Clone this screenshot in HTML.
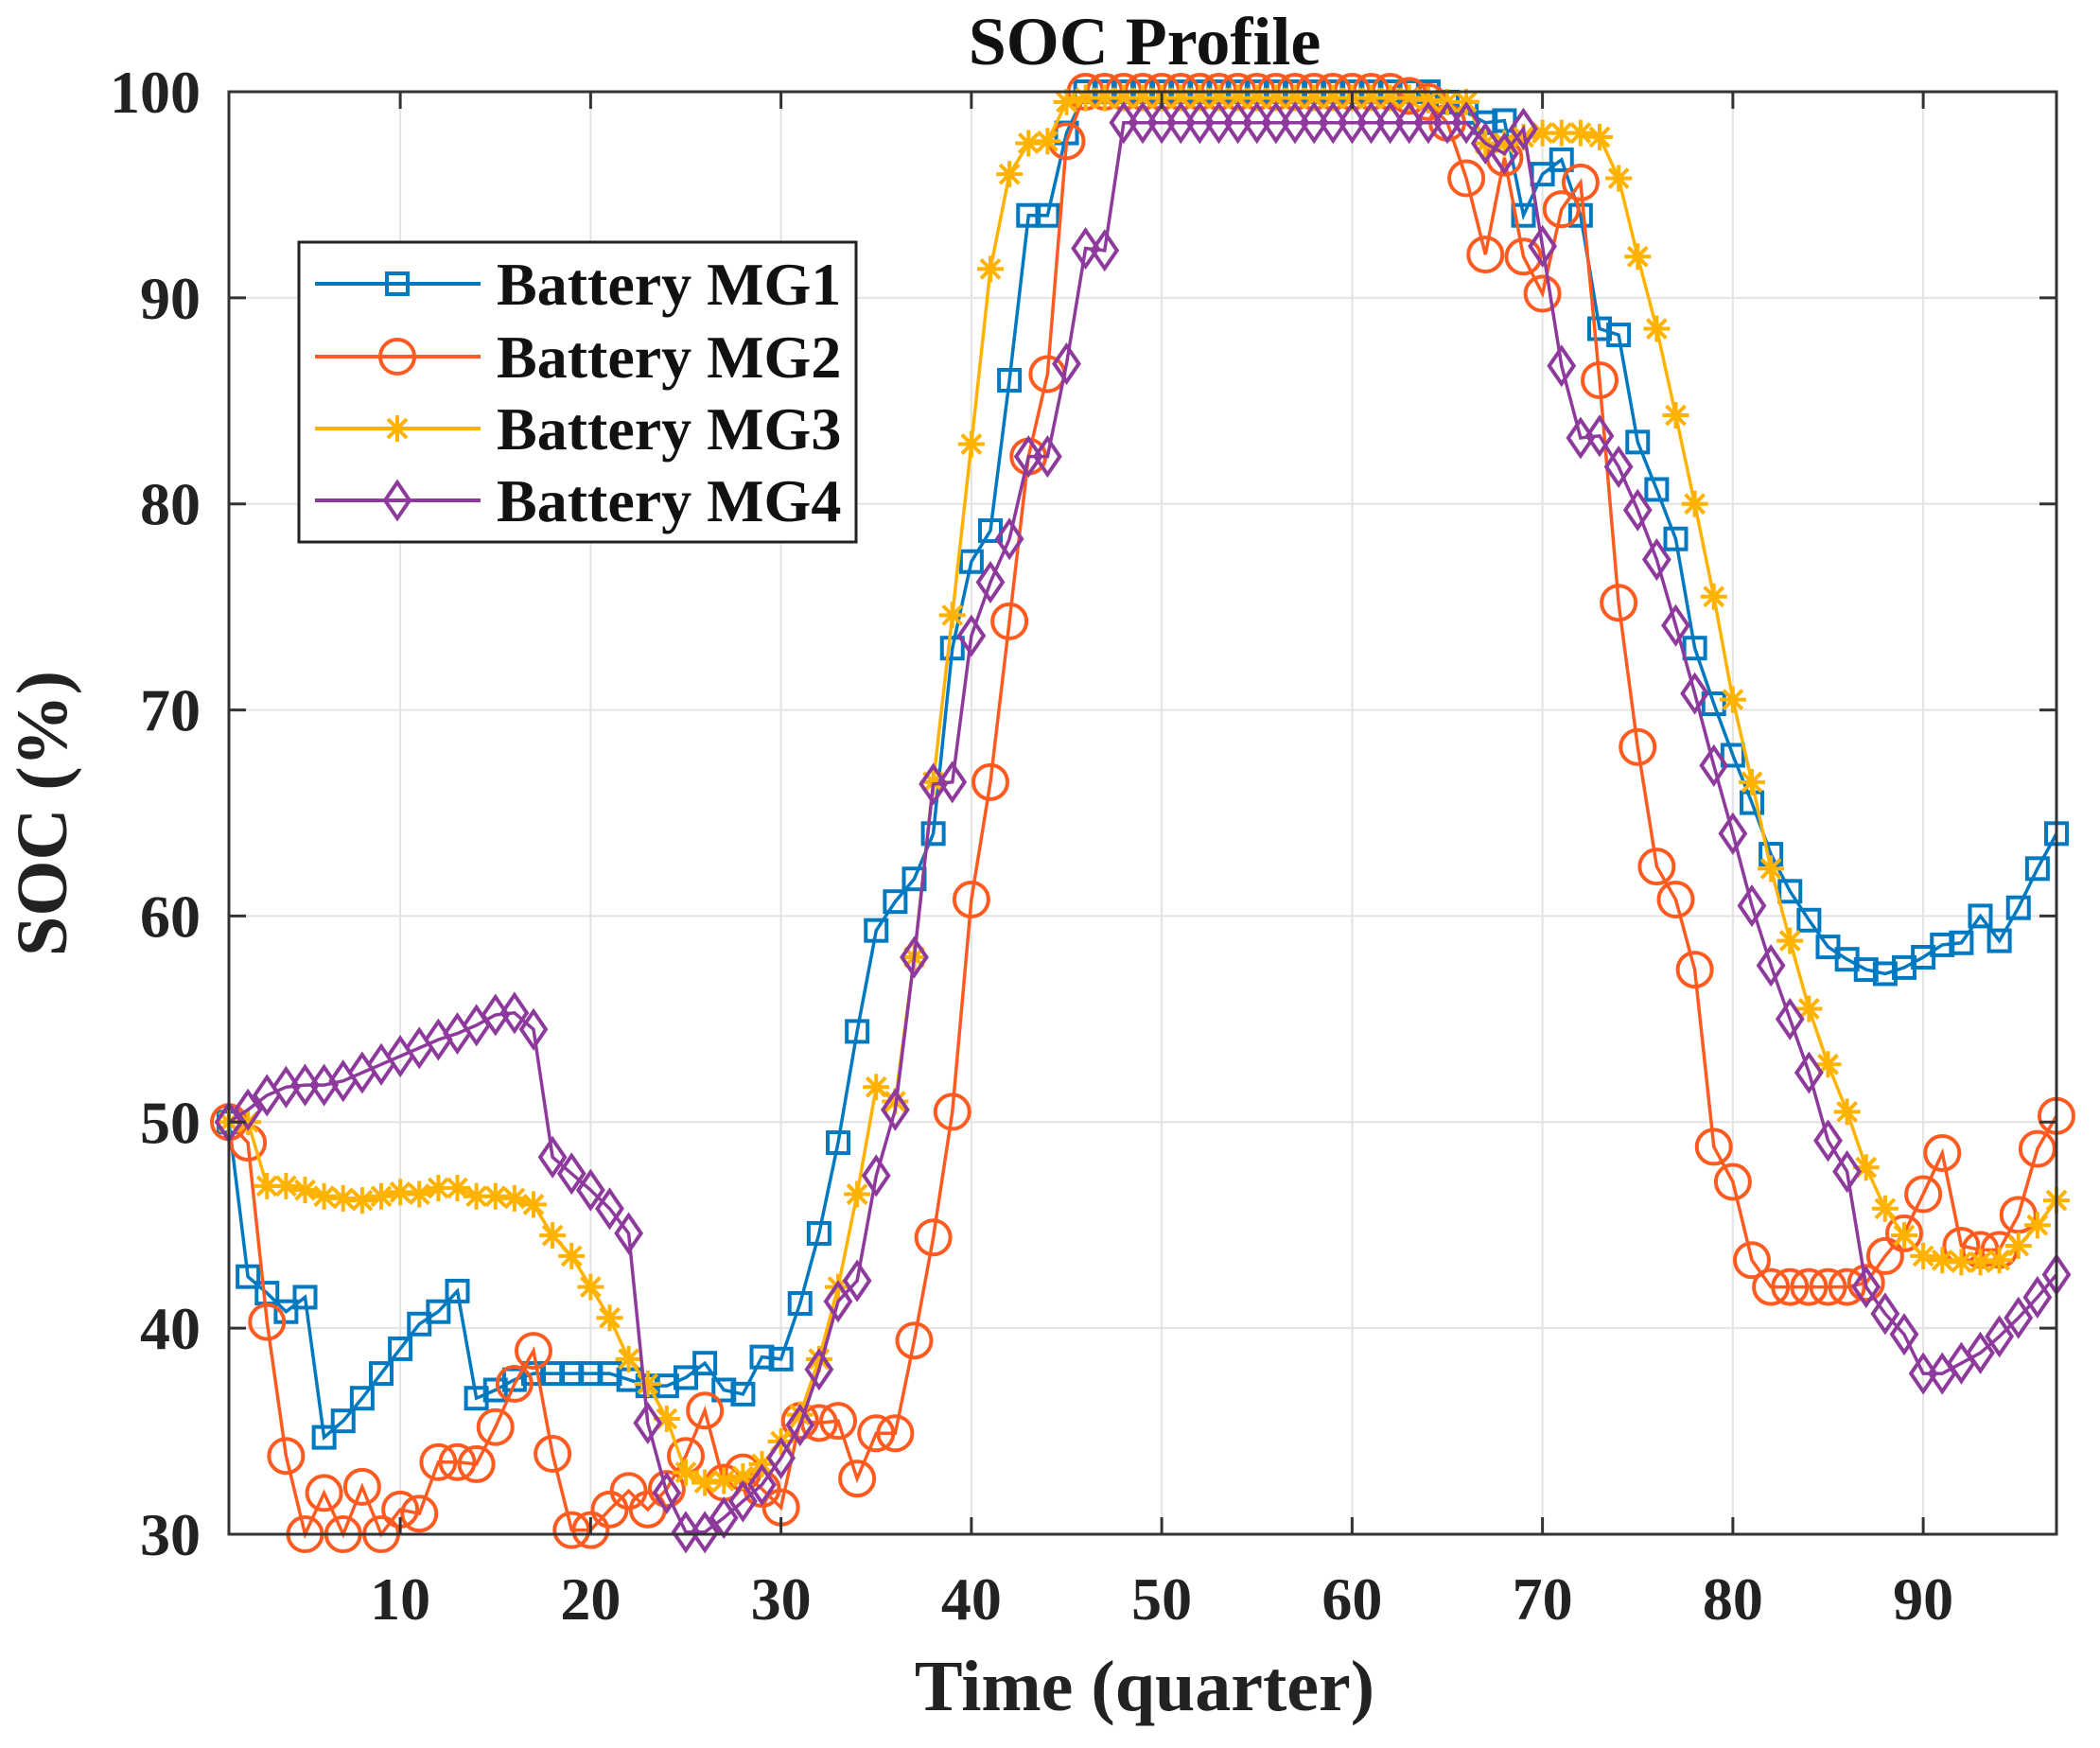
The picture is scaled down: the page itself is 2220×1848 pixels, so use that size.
<!DOCTYPE html>
<html><head><meta charset="utf-8"><style>
html,body{margin:0;padding:0;background:#fff;}
svg{display:block;font-family:"Liberation Serif",serif;font-weight:bold;}
</style></head><body>
<svg id="chart" width="2220" height="1848" viewBox="0 0 2220 1848" xmlns="http://www.w3.org/2000/svg">
<rect x="0" y="0" width="2220" height="1848" fill="#fff"/>
<g id="grid"></g>
<g id="series"></g>
<g id="axes"></g>
<text x="1210" y="68" font-size="72" text-anchor="middle" fill="#111">SOC Profile</text>
<text x="1210" y="1808" font-size="76" text-anchor="middle" fill="#222">Time (quarter)</text>
<text transform="translate(70,860) rotate(-90)" font-size="76" text-anchor="middle" fill="#222">SOC (%)</text>
<g id="legend"></g>
</svg>
<script>
const xTicks=[10,20,30,40,50,60,70,80,90];
const yTicks=[30,40,50,60,70,80,90,100];
const seriesNames=["Battery MG1","Battery MG2","Battery MG3","Battery MG4"];
const mg1=[50,42.5,41.7,40.8,41.5,34.7,35.5,36.6,37.8,39,40.2,40.8,41.8,36.6,37,37.5,37.8,37.8,37.8,37.8,37.8,37.5,37.2,37.2,37.6,38.3,37,36.8,38.6,38.5,41.2,44.6,49,54.4,59.3,60.7,61.8,64,73,77.2,78.7,86,94,94,98,100,100,100,100,100,100,100,100,100,100,100,100,100,100,100,100,100,100,100,99.5,99,98.5,98.6,94,96,96.7,94,88.5,88.2,83,80.7,78.3,73,70.3,67.8,65.5,63,61.2,59.8,58.5,57.9,57.4,57.2,57.5,58,58.6,58.7,60,58.8,60.4,62.3,64];
const mg2=[50,49,40.3,33.8,30,32,30,32.3,30,31.2,31,33.5,33.5,33.4,35.2,37.3,38.9,33.9,30.2,30.2,31.2,32.1,31.2,32.2,33.8,36,32.5,33,32.2,31.3,35.5,35.4,35.5,32.7,34.9,34.9,39.4,44.4,50.5,60.8,66.5,74.3,82.3,86.3,97.6,100,100,100,100,100,100,100,100,100,100,100,100,100,100,100,100,100,99.8,99.5,98.5,95.8,92.1,96.8,92,90.2,94.3,95.6,86,75.2,68.2,62.4,60.8,57.4,48.8,47.1,43.3,42,42,42,42,42,42.2,43.5,44.6,46.5,48.5,44,43.8,43.8,45.5,48.7,50.3];
const mg3=[50,50,46.9,46.9,46.7,46.4,46.3,46.2,46.4,46.6,46.5,46.8,46.8,46.4,46.4,46.3,46,44.5,43.5,42,40.5,38.5,37.3,35.6,33,32.5,32.6,32.8,33.4,34.5,35.8,38.5,42,46.5,51.7,51,58,66.5,74.6,82.9,91.4,96,97.5,97.6,99.5,99.7,99.7,99.7,99.7,99.7,99.7,99.7,99.7,99.7,99.7,99.7,99.7,99.7,99.7,99.7,99.7,99.7,99.7,99.6,99.5,99.5,97.5,97.5,97.8,98,98,98,97.8,95.8,92,88.5,84.3,80,75.5,70.5,66.5,62.3,58.8,55.5,52.8,50.5,47.8,45.8,44.5,43.5,43.3,43.2,43.2,43.3,44,45,46.2];
const mg4=[50,50.6,51.3,51.7,51.8,51.8,52,52.4,52.8,53.2,53.6,54,54.3,54.7,55.2,55.3,54.5,48.3,47.5,46.7,45.8,44.6,35.4,32,30.1,30.1,30.8,31.6,32.4,33.7,35.3,38,41.3,42.3,47.4,50.6,58,66.4,66.5,73.6,76.2,78.3,82.3,82.3,86.8,92.4,92.3,98.5,98.5,98.5,98.5,98.5,98.5,98.5,98.5,98.5,98.5,98.5,98.5,98.5,98.5,98.5,98.5,98.5,98.5,98.5,97.5,97,98.2,92.5,86.7,83.2,83.3,81.8,79.7,77.3,74.1,70.8,67.3,64,60.5,57.6,55,52.4,49.1,47.6,42,40.7,39.7,37.8,37.8,38.3,38.8,39.6,40.5,41.5,42.6];

const NS="http://www.w3.org/2000/svg";
const L=242,R=2174,T=97,B=1622,XMIN=1,XMAX=97,YMIN=30,YMAX=100;
function xs(v){return L+(v-XMIN)/(XMAX-XMIN)*(R-L);}
function ys(v){return B-(v-YMIN)/(YMAX-YMIN)*(B-T);}
function mk(tag,attrs,parent){const e=document.createElementNS(NS,tag);for(const k in attrs)e.setAttribute(k,attrs[k]);parent.appendChild(e);return e;}
const grid=document.getElementById('grid'),axes=document.getElementById('axes'),ser=document.getElementById('series'),leg=document.getElementById('legend');
xTicks.forEach(t=>{
  const g=mk('line',{x1:xs(t),x2:xs(t),y1:T,y2:B,stroke:'#e3e3e3','stroke-width':2},grid);
  
  
  mk('line',{x1:xs(t),x2:xs(t),y1:B,y2:B-18,stroke:'#333','stroke-width':3},axes);
  mk('line',{x1:xs(t),x2:xs(t),y1:T,y2:T+18,stroke:'#333','stroke-width':3},axes);
  const tx=mk('text',{x:xs(t),y:1712,'font-size':64,'text-anchor':'middle',fill:'#222'},axes);
  tx.textContent=t;
  
  
});
yTicks.forEach(t=>{
  const g=mk('line',{x1:L,x2:R,y1:ys(t),y2:ys(t),stroke:'#e3e3e3','stroke-width':2},grid);
  
  
  mk('line',{x1:L,x2:L+18,y1:ys(t),y2:ys(t),stroke:'#333','stroke-width':3},axes);
  mk('line',{x1:R,x2:R-18,y1:ys(t),y2:ys(t),stroke:'#333','stroke-width':3},axes);
  const tx=mk('text',{x:212,y:ys(t)+22,'font-size':64,'text-anchor':'end',fill:'#222'},axes);
  tx.textContent=t;
  
  
});
const box=mk('rect',{x:L,y:T,width:R-L,height:B-T,fill:'none',stroke:'#333','stroke-width':3},axes);



const colors=['#0079C1','#FF5A1F','#FFB300','#8E3A9D'];
function marker(type,cx,cy,c,parent){
  let e;
  if(type===0)e=mk('rect',{x:cx-11,y:cy-11,width:22,height:22,fill:'none',stroke:c,'stroke-width':4},parent);
  else if(type===1)e=mk('circle',{cx:cx,cy:cy,r:18,fill:'none',stroke:c,'stroke-width':4},parent);
  else if(type===2){e=mk('path',{d:`M${cx-14},${cy}H${cx+14}M${cx},${cy-14}V${cy+14}M${cx-10},${cy-10}L${cx+10},${cy+10}M${cx-10},${cy+10}L${cx+10},${cy-10}`,fill:'none',stroke:c,'stroke-width':4},parent);}
  else e=mk('path',{d:`M${cx},${cy-19}L${cx+13},${cy}L${cx},${cy+19}L${cx-13},${cy}Z`,fill:'none',stroke:c,'stroke-width':4},parent);
  return e;
}
[mg1,mg2,mg3,mg4].forEach((arr,si)=>{
  const g=mk('g',{},ser);
  
  
  const pts=arr.map((v,i)=>xs(i+1).toFixed(1)+','+ys(v).toFixed(1)).join(' ');
  const pl=mk('polyline',{points:pts,fill:'none',stroke:colors[si],'stroke-width':3.5},g);
  
  
  arr.forEach((v,i)=>{
    const m=marker(si,xs(i+1),ys(v),colors[si],g);
    
    
  });
});
const lb=mk('rect',{x:316,y:256,width:589,height:317,fill:'#fff',stroke:'#222','stroke-width':3},leg);


const ly=[300,377,453,529];
seriesNames.forEach((n,i)=>{
  const g=mk('g',{},leg);
  
  
  mk('line',{x1:333,x2:508,y1:ly[i],y2:ly[i],stroke:colors[i],'stroke-width':4},g);
  marker(i,420,ly[i],colors[i],g);
  const t=mk('text',{x:525,y:ly[i]+22,'font-size':64,fill:'#111'},g);
  t.textContent=n;
  
  
});
</script>
</body></html>
